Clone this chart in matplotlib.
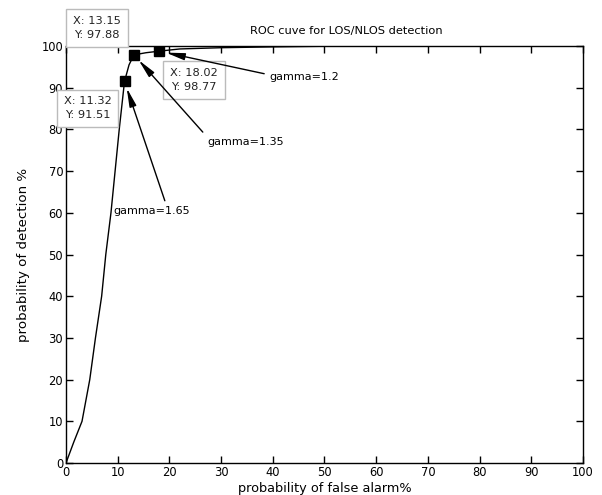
import matplotlib
matplotlib.use("Agg")
import matplotlib.pyplot as plt

plt.rcParams['font.family'] = ['DejaVu Sans']

# ROC curve data
pfa = [0, 1.5, 3.1, 4.6, 5.7, 6.9, 7.7, 8.7, 9.5, 10.3, 11.32, 12.2, 13.15,
       15.5, 18.02, 22, 30, 40, 50, 60, 80, 100]
pd_ = [0, 5, 10, 20, 30, 40, 50, 60, 70, 80, 91.51, 95.5, 97.88,
       98.4, 98.77, 99.3, 99.6, 99.8, 99.95, 100, 100, 100]

# Data tips
tip_x = [11.32, 13.15, 18.02]
tip_y = [91.51, 97.88, 98.77]
tip_offsets = [(-37, -27), (-37, 27), (35, -29)]  # pixels, box centre

# gamma annotations
gamma_labels = ['gamma=1.65', 'gamma=1.35', 'gamma=1.2']
gamma_text_pos = [(9.1, 60.4), (27.3, 77.0), (39.4, 92.6)]
gamma_relpos = [(0.7, 1.0), (0.0, 1.0), (0.0, 0.7)]

xticks = list(range(0, 101, 10))
yticks = list(range(0, 101, 10))

fig = plt.figure(figsize=(6.02, 4.95), dpi=100)
ax = fig.add_axes([0.1096, 0.0646, 0.8588, 0.8424])

ax.plot(pfa, pd_, color='black', lw=1.0)
ax.plot(tip_x, tip_y, linestyle='none', marker='s', ms=7, color='black')

ax.set_xlim(0, 100)
ax.set_ylim(0, 100)
ax.set_xticks(xticks)
ax.set_yticks(yticks)
ax.tick_params(direction='in', length=5, width=1, top=True, right=True,
               labelsize=8.3, pad=2, colors='black')
for s in ax.spines.values():
    s.set_linewidth(1.0)
    s.set_color('black')

for x, y, off in zip(tip_x, tip_y, tip_offsets):
    ax.annotate(f"X: {x:.2f}\nY: {y:.2f}", xy=(x, y), xycoords='data',
                xytext=off, textcoords='offset pixels', ha='center', va='center',
                fontsize=8.2, linespacing=1.5, color='#222222',
                bbox=dict(boxstyle='square,pad=0.6', fc='white', ec='#bbbbbb', lw=1),
                annotation_clip=False, zorder=5)

for lab, (tx, ty), rp, x, y in zip(gamma_labels, gamma_text_pos, gamma_relpos,
                                   tip_x, tip_y):
    ax.annotate(lab, xy=(x, y), xycoords='data', xytext=(tx, ty),
                textcoords='data', ha='left', va='center', fontsize=8,
                arrowprops=dict(arrowstyle='-|>,head_length=0.8,head_width=0.15',
                                color='black', lw=1, relpos=rp,
                                shrinkA=2, shrinkB=5, mutation_scale=14),
                zorder=6)

ax.set_title('ROC cuve for LOS/NLOS detection', x=0.542, pad=9, fontsize=8.2)
ax.set_xlabel('probability of false alarm%', fontsize=9.3, labelpad=2)
ax.set_ylabel('probability of detection %', fontsize=9.6, labelpad=8)

fig.savefig('out.png', dpi=100)
